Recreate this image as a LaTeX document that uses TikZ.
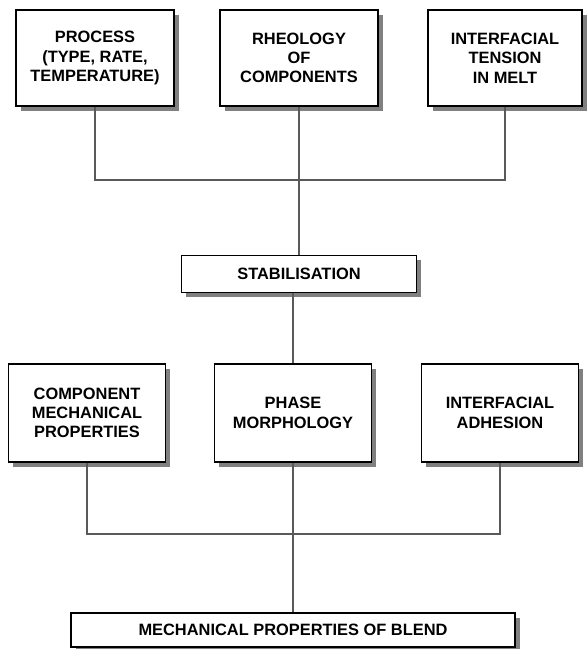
\documentclass[tikz,border=0pt]{standalone}
\usepackage{fontspec}
\setmainfont{Liberation Sans}
\usetikzlibrary{shadows}

\begin{document}
\begin{tikzpicture}[x=0.03cm, y=-0.03cm,
		box/.style={draw, line width=0.9pt, fill=white, align=center, inner sep=2pt,
			font=\bfseries\fontsize{14}{16.5}\selectfont,
			drop shadow={shadow xshift=0.14cm, shadow yshift=-0.14cm, fill=black!50, opacity=1}},
		link/.style={draw=black!65, line width=1.3pt}]
		\useasboundingbox (0,0) rectangle (587,649);
		% top row
		\node[box, minimum width=4.74cm, minimum height=2.88cm] (proc) at (95,58) {PROCESS\\(TYPE, RATE,\\TEMPERATURE)};
		\node[box, minimum width=4.74cm, minimum height=2.88cm] (rheo) at (299,58) {RHEOLOGY\\OF\\COMPONENTS};
		\node[box, minimum width=4.62cm, minimum height=2.88cm] (tens) at (505,58) {INTERFACIAL\\TENSION\\IN MELT};
		\coordinate (j1) at (299,180);
		\node[box, minimum width=7.05cm, minimum height=1.11cm] (stab) at (299,274) {STABILISATION};
		% bottom row
		\node[box, minimum width=4.71cm, minimum height=2.94cm] (comp) at (87,413) {COMPONENT\\MECHANICAL\\PROPERTIES};
		\node[box, minimum width=4.71cm, minimum height=2.94cm] (phase) at (293,413) {PHASE\\MORPHOLOGY};
		\node[box, minimum width=4.71cm, minimum height=2.94cm] (adh) at (500,413) {INTERFACIAL\\ADHESION};
		\coordinate (j2) at (293,534);
		\node[box, minimum width=13.32cm, minimum height=1.02cm] (blend) at (293,630) {MECHANICAL PROPERTIES OF BLEND};
		% connectors
		\draw[link] (proc.south) |- (j1) -| (tens.south);
		\draw[link] (rheo.south) -- (j1) -- (stab.north);
		\draw[link] (phase.north) -- (phase.north |- stab.south);
		\draw[link] (comp.south) |- (j2) -| (adh.south);
		\draw[link] (phase.south) -- (j2) -- (blend.north);
	\end{tikzpicture}
\end{document}
